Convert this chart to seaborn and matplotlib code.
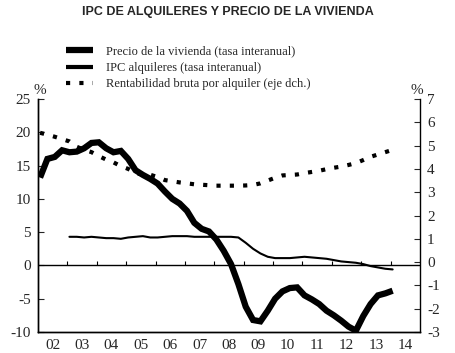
import numpy as np
import pandas as pd
import seaborn as sns
import matplotlib.pyplot as plt
from matplotlib.lines import Line2D

# datos trimestrales 2002T1 - 2014T1
precio_vivienda = [13.2, 16.0, 16.3, 17.3, 17.0, 17.1, 17.6, 18.4, 18.5, 17.6,
                   17.0, 17.2, 16.0, 14.3, 13.6, 13.0, 12.3, 11.1, 10.0, 9.3,
                   8.2, 6.4, 5.5, 5.1, 3.9, 2.2, 0.2, -2.8, -6.2, -8.2,
                   -8.4, -6.8, -5.0, -3.9, -3.4, -3.3, -4.5, -5.1, -5.8, -6.8,
                   -7.5, -8.3, -9.2, -9.8, -7.6, -5.8, -4.5, -4.2, -3.8]
# IPC alquileres empieza en 2003T1
ipc_alquileres = [np.nan] * 4 + [4.3, 4.3, 4.2, 4.3, 4.2, 4.1, 4.1, 4.0, 4.2, 4.3,
                  4.4, 4.2, 4.2, 4.3, 4.4, 4.4, 4.4, 4.3, 4.3, 4.3,
                  4.3, 4.3, 4.3, 4.2, 3.4, 2.5, 1.8, 1.3, 1.1, 1.1,
                  1.1, 1.2, 1.3, 1.2, 1.1, 1.0, 0.8, 0.6, 0.5, 0.4,
                  0.2, -0.1, -0.3, -0.5, -0.6]
rentabilidad = [5.55, 5.47, 5.38, 5.28, 5.18, 4.95, 4.82, 4.72, 4.55, 4.40,
                4.28, 4.12, 4.00, 3.82, 3.75, 3.75, 3.65, 3.52, 3.47, 3.42,
                3.38, 3.34, 3.32, 3.30, 3.28, 3.28, 3.28, 3.28, 3.29, 3.31,
                3.38, 3.50, 3.62, 3.72, 3.74, 3.76, 3.82, 3.87, 3.92, 3.99,
                4.05, 4.10, 4.17, 4.25, 4.38, 4.52, 4.62, 4.72, 4.82]
anios = list(range(2002, 2015))
etiquetas = ['02', '03', '04', '05', '06', '07', '08', '09', '10', '11', '12', '13', '14']

t = 2002.07 + 0.25 * np.arange(len(precio_vivienda))
df = pd.DataFrame({'t': t, 'precio': precio_vivienda,
                   'ipc': ipc_alquileres, 'rent': rentabilidad})

sns.set_style('white')
plt.rcParams['font.family'] = ['Liberation Serif', 'DejaVu Serif']
plt.rcParams['axes.unicode_minus'] = False

fig = plt.figure(figsize=(4.55, 3.53), dpi=100)
ax = fig.add_axes([0.0835, 0.0595, 0.8395, 0.66])
ax2 = ax.twinx()

sns.lineplot(data=df, x='t', y='precio', ax=ax, color='black', lw=4.5,
             solid_joinstyle='miter', solid_capstyle='butt')
sns.lineplot(data=df, x='t', y='ipc', ax=ax, color='black', lw=1.5)
sns.lineplot(data=df, x='t', y='rent', ax=ax2, color='black', lw=3.0,
             linestyle=(0, (1, 2.2)), dash_capstyle='butt')

ax.axhline(0, color='black', lw=1.0)
ax.vlines(anios[1:], 0, 0.6, color='black', lw=0.8)

ax.set_xlim(2002, 2015)
ax.set_ylim(-10, 25)
ax2.set_ylim(-3, 7)
ax.set_yticks(range(-10, 26, 5))
ax2.set_yticks(range(-3, 8))
ax.set_xticks(anios[1:])
ax.set_xticklabels([])
ax.set_xticks(np.array(anios) + 0.5, minor=True)
ax.set_xticklabels(etiquetas, minor=True)
ax.set_xlabel('')
ax.set_ylabel('')
ax2.set_ylabel('')

for a in (ax, ax2):
    a.spines['top'].set_visible(False)
    for s in a.spines.values():
        s.set_linewidth(1.0)
        s.set_color('black')
ax.spines['right'].set_visible(False)
ax.tick_params(axis='x', which='major', direction='in', length=4, width=0.8)
ax.tick_params(axis='x', which='minor', length=0, labelsize=11, pad=5)
ax.tick_params(axis='y', direction='in', length=4, width=0.8, labelsize=11, left=True, pad=5)
ax2.tick_params(axis='y', direction='in', length=4, width=0.8, labelsize=11, right=True, pad=5)

fig.text(0.088, 0.725, '%', fontsize=11, ha='center', va='bottom')
fig.text(0.915, 0.725, '%', fontsize=11, ha='center', va='bottom')

fig.text(0.5, 0.965, 'IPC DE ALQUILERES Y PRECIO DE LA VIVIENDA', family='Liberation Sans',
         weight='bold', fontsize=9, ha='center', va='center')

handles = [Line2D([], [], color='black', lw=4.5, solid_capstyle='butt'),
           Line2D([], [], color='black', lw=3.0, solid_capstyle='butt'),
           Line2D([], [], color='black', lw=3.0, linestyle=(0, (1, 2.2)), dash_capstyle='butt')]
labels = ['Precio de la vivienda (tasa interanual)', 'IPC alquileres (tasa interanual)',
          'Rentabilidad bruta por alquiler (eje dch.)']
fig.legend(handles, labels, loc='upper left', bbox_to_anchor=(0.133, 0.885), frameon=False,
           fontsize=9, handlelength=2.2, handletextpad=1.0, labelspacing=0.35, borderaxespad=0)

fig.savefig('out.png', dpi=100)
